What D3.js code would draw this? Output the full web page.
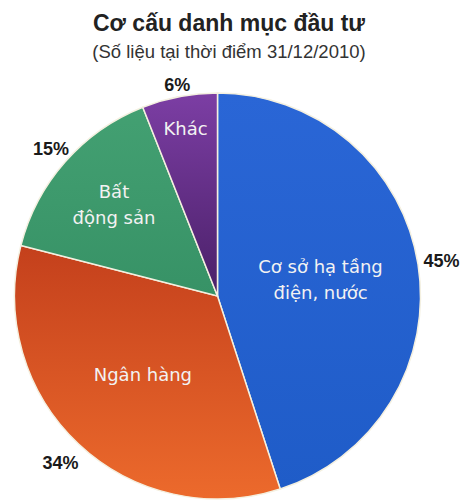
<!DOCTYPE html>
<html><head><meta charset="utf-8">
<script src="https://cdn.jsdelivr.net/npm/d3@7"></script>
<style>body{margin:0;background:#fff}svg{display:block}</style>
</head><body>
<script>
const categories = ["Cơ sở hạ tầng điện, nước", "Ngân hàng", "Bất động sản", "Khác"];
const labelLines = [["Cơ sở hạ tầng", "điện, nước"], ["Ngân hàng"], ["Bất", "động sản"], ["Khác"]];
const values = [45, 34, 15, 6];
const pctLabels = ["45%", "34%", "15%", "6%"];
const colors = ["#2362d2", "#e05826", "#3d9a6c", "#6e3090"];

const W = 461, H = 501, cx = 217.5, cy = 296, r = 203;
const svg = d3.select("body").append("svg").attr("width", W).attr("height", H);

const defs = svg.append("defs");
const grads = [["#2a66d6","#1f5cc8"],["#c4401c","#ec6a2c"],["#43a072","#379266"],["#7c3ea4","#4a2068"]];
grads.forEach((g,i)=>{
  const lg = defs.append("linearGradient").attr("id","g"+i).attr("x1",0).attr("y1",0).attr("x2",0).attr("y2",1);
  lg.append("stop").attr("offset","0%").attr("stop-color",g[0]);
  lg.append("stop").attr("offset","100%").attr("stop-color",g[1]);
});

svg.append("text").attr("x",229).attr("y",31).attr("text-anchor","middle")
  .attr("font-family","Liberation Sans, Arial, sans-serif").attr("font-weight","bold")
  .attr("font-size",23).attr("fill","#222").text("Cơ cấu danh mục đầu tư");
svg.append("text").attr("x",229).attr("y",58).attr("text-anchor","middle")
  .attr("font-family","Liberation Sans, Arial, sans-serif")
  .attr("font-size",18.5).attr("fill","#333").text("(Số liệu tại thời điểm 31/12/2010)");

const pie = d3.pie().sort(null).value(d=>d)(values);
const arc = d3.arc().innerRadius(0).outerRadius(r);
const g = svg.append("g").attr("transform",`translate(${cx},${cy})`);
g.selectAll("path").data(pie).join("path")
  .attr("d",arc).attr("fill",(d,i)=>`url(#g${i})`)
  .attr("stroke","#f4f0e0").attr("stroke-width",1.5);

// in-slice labels
const inArc = [0.514, 0.537, 0.68, 0.838];
pie.forEach((d,i)=>{
  const a = d3.arc().innerRadius(r*inArc[i]).outerRadius(r*inArc[i]);
  const [x,y] = a.centroid(d);
  const lines = labelLines[i];
  const lh = 26;
  const t = g.append("text").attr("text-anchor","middle")
    .attr("font-family","DejaVu Sans, Verdana, sans-serif").attr("font-size",18)
    .attr("fill","#f2f2f2");
  lines.forEach((l,j)=>{
    t.append("tspan").attr("x",x).attr("y",y + (j-(lines.length-1)/2)*lh + 6).text(l);
  });
});

// outer percentage labels
const outR = [1.117, 1.13, 1.094, 1.056];
pie.forEach((d,i)=>{
  const a = d3.arc().innerRadius(r*outR[i]).outerRadius(r*outR[i]);
  const [x,y] = a.centroid(d);
  g.append("text").attr("x",x).attr("y",y+6).attr("text-anchor","middle")
    .attr("font-family","Liberation Sans, Arial, sans-serif").attr("font-weight","bold")
    .attr("font-size",18).attr("fill","#1a1a1a").text(pctLabels[i]);
});
</script>
</body></html>
